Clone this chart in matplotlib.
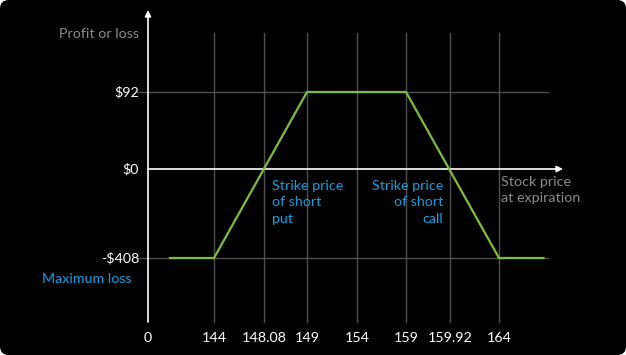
import numpy as np
import matplotlib.pyplot as plt
from matplotlib.patches import FancyBboxPatch

# -----------------------------
# Data
# -----------------------------
x_ticks = [0, 144, 148.08, 149, 154, 159, 159.92, 164]
x_tick_labels = ["0", "144", "148.08", "149", "154", "159", "159.92", "164"]
y_ticks = [-408, 0, 92]
y_tick_labels = ["-$408", "$0", "$92"]

stock_price = [48, 144, 149, 159, 164, 167.7]
profit_loss = [-408, -408, 92, 92, -408, -408]

# schematic (non-linear) axes: where each tick sits, in pixels
x_tick_px = [148, 214, 264, 307, 357, 406, 450, 499]
y_tick_px = [258, 169, 92]

W, H = 626, 355

GREEN = "#7dbf3a"
BLUE = "#10a0e2"
GREY = "#8c8c8c"
GRID = "#505050"
FS = 10.3


def piecewise(v, knots, px):
    v = np.asarray(v, dtype=float)
    out = np.interp(v, knots, px)
    lo = (px[1] - px[0]) / (knots[1] - knots[0])
    hi = (px[-1] - px[-2]) / (knots[-1] - knots[-2])
    out = np.where(v < knots[0], px[0] + (v - knots[0]) * lo, out)
    out = np.where(v > knots[-1], px[-1] + (v - knots[-1]) * hi, out)
    return out


def piecewise_inv(p, knots, px):
    return piecewise(p, px, knots)


y_up_px = [H - p for p in y_tick_px]

fx = lambda v: piecewise(v, x_ticks, x_tick_px)
fx_inv = lambda p: piecewise_inv(p, x_ticks, x_tick_px)
fy = lambda v: piecewise(v, y_ticks, y_up_px)
fy_inv = lambda p: piecewise_inv(p, y_ticks, y_up_px)

plt.rcParams["font.family"] = ["Lato", "DejaVu Sans"]

fig = plt.figure(figsize=(W / 100, H / 100), dpi=100, facecolor="white")
bg = FancyBboxPatch((0, 0), 1, 1, boxstyle="round,pad=0,rounding_size=0.014",
                    transform=fig.transFigure, facecolor="black",
                    edgecolor="none", mutation_aspect=W / H, zorder=-10)
fig.add_artist(bg)

ax = fig.add_axes([0, 0, 1, 1])
ax.set_facecolor("none")
ax.set_zorder(5)
ax.set_xscale("function", functions=(fx, fx_inv))
ax.set_yscale("function", functions=(fy, fy_inv))
ax.set_xlim(float(fx_inv(0)), float(fx_inv(W)))
ax.set_ylim(float(fy_inv(0)), float(fy_inv(H)))
ax.axis("off")

# grid
for xv in x_ticks[1:]:
    ax.axvline(xv, ymin=(H - 322) / H, ymax=(H - 33) / H, color=GRID, lw=1, zorder=1)
for yv in [92, -408]:
    ax.axhline(yv, xmin=137 / W, xmax=548 / W, color=GRID, lw=1, zorder=1)

# axes with arrows
ax.annotate("", xy=(148 / W, (H - 10) / H), xytext=(148 / W, (H - 322) / H),
            xycoords="axes fraction",
            arrowprops=dict(arrowstyle="-|>", color="white", lw=1.2,
                            mutation_scale=9, shrinkA=0, shrinkB=0), zorder=3)
ax.annotate("", xy=(563 / W, 0), xytext=(148 / W, 0),
            xycoords=("axes fraction", "data"),
            arrowprops=dict(arrowstyle="-|>", color="white", lw=1.2,
                            mutation_scale=9, shrinkA=0, shrinkB=0), zorder=3)

# payoff line
ax.plot(stock_price, profit_loss, color=GREEN, lw=1.6, zorder=4,
        solid_joinstyle="miter")

# tick labels
for xv, lab in zip(x_ticks, x_tick_labels):
    ax.text(xv, (H - 338) / H, lab, transform=ax.get_xaxis_transform(),
            ha="center", va="center", color="white", fontsize=FS)
for yv, lab in zip(y_ticks, y_tick_labels):
    ax.text(139 / W, yv, lab, transform=ax.get_yaxis_transform(),
            ha="right", va="center", color="white", fontsize=FS)

ax.text(139 / W, (H - 34) / H, "Profit or loss", transform=ax.transAxes,
        ha="right", va="center", color=GREY, fontsize=FS)
ax.text(132 / W, (H - 279) / H, "Maximum loss", transform=ax.transAxes,
        ha="right", va="center", color=BLUE, fontsize=FS)

ax.text(272 / W, (H - 180) / H, "Strike price\nof short\nput", transform=ax.transAxes,
        ha="left", va="top", color=BLUE, fontsize=FS, linespacing=1.45)
ax.text(443 / W, (H - 180) / H, "Strike price\nof short\ncall", transform=ax.transAxes,
        ha="right", va="top", color=BLUE, fontsize=FS, linespacing=1.45, multialignment="right")
ax.text(501 / W, (H - 176) / H, "Stock price\nat expiration", transform=ax.transAxes,
        ha="left", va="top", color=GREY, fontsize=FS, linespacing=1.38)

fig.savefig("out.png", dpi=100, facecolor="white")
